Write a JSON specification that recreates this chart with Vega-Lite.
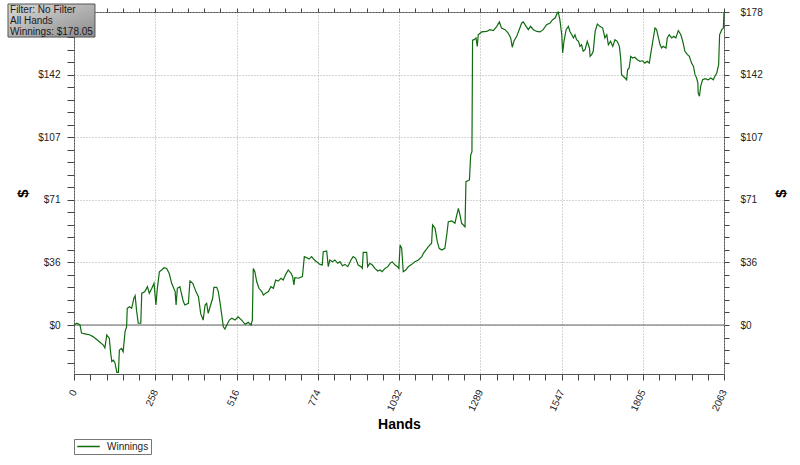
{
"$schema": "https://vega.github.io/schema/vega-lite/v6.json",
"width": 650, "height": 362,
"autosize": {"type": "none"},
"padding": {"left": 74, "top": 12, "right": 76, "bottom": 91},
"background": "white",
"config": {"view": {"stroke": "#555", "strokeWidth": 1}, "font": "Liberation Sans"},
"datasets": {"winnings": [
{"h":0,"v":0},{"h":9,"v":1},{"h":19,"v":0},{"h":24,"v":-4.6},{"h":35,"v":-5},{"h":51,"v":-5.7},{"h":60,"v":-6.6},{"h":77,"v":-9},{"h":93,"v":-11.4},{"h":98,"v":-13},{"h":104,"v":-5.7},{"h":112,"v":-7.5},{"h":116,"v":-15.2},{"h":120,"v":-20.8},{"h":125,"v":-20},{"h":130,"v":-21.6},{"h":136,"v":-27},{"h":141,"v":-27},{"h":144,"v":-14.2},{"h":151,"v":-13.3},{"h":156,"v":-15.2},{"h":162,"v":-3.8},{"h":167,"v":-1},{"h":169,"v":9.5},{"h":176,"v":10.4},{"h":183,"v":9.5},{"h":190,"v":15.2},{"h":194,"v":16.7},{"h":199,"v":7.6},{"h":204,"v":1},{"h":212,"v":1},{"h":215,"v":18},{"h":225,"v":19},{"h":233,"v":21.8},{"h":239,"v":18},{"h":247,"v":20.9},{"h":254,"v":23.7},{"h":260,"v":11.4},{"h":264,"v":20},{"h":271,"v":30.3},{"h":278,"v":31.3},{"h":286,"v":32.6},{"h":294,"v":32.2},{"h":302,"v":29.4},{"h":310,"v":23.7},{"h":321,"v":19},{"h":324,"v":11.4},{"h":328,"v":20.9},{"h":336,"v":21.8},{"h":347,"v":13.3},{"h":352,"v":11.4},{"h":363,"v":12.3},{"h":368,"v":25},{"h":377,"v":23.7},{"h":387,"v":19},{"h":395,"v":16.1},{"h":402,"v":6.6},{"h":410,"v":2.8},{"h":416,"v":11.4},{"h":421,"v":12.3},{"h":426,"v":6.6},{"h":432,"v":10.4},{"h":440,"v":15.2},{"h":444,"v":21.4},{"h":453,"v":21.4},{"h":458,"v":19},{"h":463,"v":13.3},{"h":469,"v":5.7},{"h":474,"v":-1},{"h":479,"v":-2.3},{"h":485,"v":0},{"h":493,"v":2.8},{"h":501,"v":3.8},{"h":511,"v":2.8},{"h":521,"v":4.7},{"h":532,"v":2.8},{"h":543,"v":0.4},{"h":553,"v":1.5},{"h":562,"v":0},{"h":566,"v":2.8},{"h":569,"v":32.2},{"h":574,"v":30.3},{"h":580,"v":24.6},{"h":587,"v":20.9},{"h":596,"v":19},{"h":601,"v":17},{"h":608,"v":18},{"h":617,"v":19},{"h":625,"v":21.8},{"h":633,"v":20.9},{"h":640,"v":25.6},{"h":648,"v":25},{"h":657,"v":26.6},{"h":664,"v":25.6},{"h":672,"v":28.8},{"h":680,"v":31.3},{"h":689,"v":29.4},{"h":694,"v":27.5},{"h":698,"v":22.8},{"h":701,"v":26.9},{"h":712,"v":26.6},{"h":725,"v":27.5},{"h":731,"v":38.9},{"h":739,"v":38.3},{"h":746,"v":37.5},{"h":754,"v":38.9},{"h":763,"v":37},{"h":770,"v":36},{"h":781,"v":34.5},{"h":788,"v":34.1},{"h":791,"v":41.7},{"h":802,"v":42.1},{"h":807,"v":33.2},{"h":812,"v":37},{"h":820,"v":36},{"h":828,"v":37},{"h":837,"v":35.1},{"h":844,"v":36},{"h":852,"v":33.7},{"h":860,"v":34.5},{"h":869,"v":33.2},{"h":879,"v":37},{"h":886,"v":38.9},{"h":894,"v":37.9},{"h":902,"v":34.1},{"h":911,"v":33.2},{"h":915,"v":32.2},{"h":918,"v":41.3},{"h":929,"v":41.3},{"h":932,"v":33.2},{"h":939,"v":35.1},{"h":947,"v":34.1},{"h":955,"v":32.2},{"h":964,"v":30.7},{"h":971,"v":31.3},{"h":978,"v":30.3},{"h":987,"v":32.2},{"h":996,"v":33.2},{"h":1003,"v":35.1},{"h":1010,"v":36},{"h":1019,"v":34.1},{"h":1027,"v":33.2},{"h":1031,"v":32.2},{"h":1035,"v":45.5},{"h":1040,"v":43.6},{"h":1045,"v":30.3},{"h":1053,"v":31.3},{"h":1061,"v":33.2},{"h":1072,"v":34.5},{"h":1082,"v":36},{"h":1093,"v":37},{"h":1104,"v":38.9},{"h":1109,"v":40.8},{"h":1124,"v":44.5},{"h":1135,"v":46.5},{"h":1138,"v":56.9},{"h":1146,"v":55},{"h":1153,"v":47.4},{"h":1159,"v":43.6},{"h":1167,"v":42.7},{"h":1177,"v":43.6},{"h":1183,"v":51.2},{"h":1188,"v":58.8},{"h":1199,"v":59.2},{"h":1209,"v":57.9},{"h":1215,"v":62.6},{"h":1220,"v":66.4},{"h":1225,"v":62.6},{"h":1230,"v":57.9},{"h":1241,"v":55.9},{"h":1244,"v":81.5},{"h":1255,"v":82.5},{"h":1259,"v":96.7},{"h":1263,"v":98.6},{"h":1265,"v":162},{"h":1270,"v":162.3},{"h":1276,"v":163.3},{"h":1280,"v":158.5},{"h":1283,"v":165.1},{"h":1294,"v":166.7},{"h":1310,"v":167},{"h":1320,"v":168},{"h":1331,"v":167.5},{"h":1342,"v":169.9},{"h":1350,"v":172.4},{"h":1357,"v":168.9},{"h":1368,"v":168},{"h":1378,"v":166.1},{"h":1386,"v":163.3},{"h":1391,"v":158},{"h":1396,"v":161.4},{"h":1405,"v":164.2},{"h":1413,"v":168},{"h":1421,"v":171.8},{"h":1426,"v":172.4},{"h":1435,"v":169.9},{"h":1442,"v":168},{"h":1449,"v":169.9},{"h":1458,"v":168},{"h":1469,"v":167},{"h":1479,"v":166.7},{"h":1489,"v":168},{"h":1500,"v":170.8},{"h":1511,"v":171.8},{"h":1519,"v":173.7},{"h":1527,"v":174.6},{"h":1534,"v":177.5},{"h":1537,"v":178},{"h":1542,"v":173.7},{"h":1548,"v":165.1},{"h":1551,"v":154.7},{"h":1555,"v":161.4},{"h":1562,"v":168},{"h":1569,"v":169.9},{"h":1574,"v":167},{"h":1580,"v":165.1},{"h":1585,"v":163.3},{"h":1590,"v":165.1},{"h":1595,"v":162.3},{"h":1601,"v":161.4},{"h":1606,"v":158.5},{"h":1611,"v":159.4},{"h":1616,"v":155.7},{"h":1622,"v":156.6},{"h":1629,"v":161.4},{"h":1636,"v":157.6},{"h":1638,"v":152.8},{"h":1643,"v":153.8},{"h":1648,"v":155.7},{"h":1654,"v":167},{"h":1661,"v":171.2},{"h":1669,"v":169.9},{"h":1678,"v":168.9},{"h":1685,"v":163.3},{"h":1691,"v":165.1},{"h":1696,"v":159.4},{"h":1703,"v":161.4},{"h":1710,"v":158.5},{"h":1717,"v":162.3},{"h":1724,"v":161.4},{"h":1731,"v":158.5},{"h":1735,"v":151.9},{"h":1738,"v":142.4},{"h":1743,"v":141.5},{"h":1749,"v":140.5},{"h":1754,"v":139.5},{"h":1757,"v":145.2},{"h":1762,"v":146.2},{"h":1767,"v":152.8},{"h":1773,"v":151.9},{"h":1780,"v":152.3},{"h":1788,"v":150.9},{"h":1796,"v":150},{"h":1805,"v":150.3},{"h":1812,"v":149},{"h":1819,"v":150},{"h":1826,"v":149},{"h":1830,"v":153.8},{"h":1837,"v":161.4},{"h":1844,"v":168.9},{"h":1849,"v":168},{"h":1854,"v":164.2},{"h":1860,"v":159.4},{"h":1865,"v":157.6},{"h":1870,"v":158.5},{"h":1879,"v":157.6},{"h":1883,"v":163.3},{"h":1889,"v":165.1},{"h":1897,"v":163.3},{"h":1904,"v":164.2},{"h":1910,"v":163.3},{"h":1918,"v":167.5},{"h":1926,"v":165.1},{"h":1932,"v":161.4},{"h":1939,"v":155.7},{"h":1947,"v":153.8},{"h":1953,"v":152.8},{"h":1960,"v":149},{"h":1966,"v":147.2},{"h":1971,"v":142.4},{"h":1976,"v":140.5},{"h":1980,"v":137.7},{"h":1981,"v":132},{"h":1985,"v":130.1},{"h":1989,"v":135.8},{"h":1995,"v":139.5},{"h":2003,"v":140.1},{"h":2013,"v":139.5},{"h":2021,"v":140.5},{"h":2029,"v":139.5},{"h":2034,"v":141.5},{"h":2040,"v":143.3},{"h":2046,"v":148.1},{"h":2049,"v":165.1},{"h":2056,"v":168},{"h":2061,"v":168.9},{"h":2063,"v":178.05}
]},
"resolve": {"axis": {"x": "independent", "y": "independent"}},
"layer": [
{
 "data": {"values": [{}]},
 "mark": {"type": "rule", "color": "#666", "strokeWidth": 1},
 "encoding": {
  "x": {"datum": 0, "type": "quantitative", "scale": {"domain": [0, 2063], "nice": false, "zero": false},
   "axis": {"orient": "top", "values": [0,51.575,103.15,154.725,206.3,257.875,309.45,361.025,412.6,464.175,515.75,567.325,618.9,670.475,722.05,773.625,825.2,876.775,928.35,979.925,1031.5,1083.075,1134.65,1186.225,1237.8,1289.375,1340.95,1392.525,1444.1,1495.675,1547.25,1598.825,1650.4,1701.975,1753.55,1805.125,1856.7,1908.275,1959.85,2011.425,2063],
    "labels": false, "title": null, "grid": false, "domain": false, "tickSize": 4, "tickColor": "#444",
    "encode": {"ticks": {"update": {"y": {"value": 0}, "y2": [{"test": "abs(datum.value/257.875 - round(datum.value/257.875)) < 0.001", "value": 6}, {"value": 4}]}}}}},
  "x2": {"datum": 2063},
  "y": {"datum": 0, "type": "quantitative", "scale": {"domain": [-27.87, 178.05], "nice": false, "zero": false},
   "axis": {"orient": "right", "values": [-21.366,-14.244,-7.122,0,7.122,14.244,21.366,28.488,35.61,42.732,49.854,56.976,64.098,71.22,78.342,85.464,92.586,99.708,106.83,113.952,121.074,128.196,135.318,142.44,149.562,156.684,163.806,170.928,178.05],
    "labelExpr": "(datum.value >= 0 && abs(datum.value/35.61 - round(datum.value/35.61)) < 0.001) ? '$' + format(datum.value, '.0f') : ''",
    "labelOverlap": false, "labelFlush": false, "labelPadding": 11, "labelFontSize": 10, "labelColor": "#222", "labelFont": "Liberation Sans",
    "tickSize": 5, "tickColor": "#444", "grid": false, "domain": false,
    "title": "$", "titleFontSize": 15, "titleFontWeight": "bold", "titleColor": "#000", "titleFont": "Liberation Sans", "titleAngle": -90, "titleX": 56, "titleY": 181, "titleAlign": "center", "titleBaseline": "middle",
    "encode": {"ticks": {"update": {"x": [{"test": "datum.value >= 0 && abs(datum.value/35.61 - round(datum.value/35.61)) < 0.001", "value": -4}, {"value": -3}], "x2": [{"test": "datum.value >= 0 && abs(datum.value/35.61 - round(datum.value/35.61)) < 0.001", "value": 5}, {"value": 3}]}}}}}
 }
},
{
 "data": {"name": "winnings"},
 "mark": {"type": "line", "strokeWidth": 1.2, "interpolate": "linear"},
 "encoding": {
  "x": {"field": "h", "type": "quantitative", "scale": {"domain": [0, 2063], "nice": false, "zero": false},
   "axis": {"orient": "bottom", "values": [0,51.575,103.15,154.725,206.3,257.875,309.45,361.025,412.6,464.175,515.75,567.325,618.9,670.475,722.05,773.625,825.2,876.775,928.35,979.925,1031.5,1083.075,1134.65,1186.225,1237.8,1289.375,1340.95,1392.525,1444.1,1495.675,1547.25,1598.825,1650.4,1701.975,1753.55,1805.125,1856.7,1908.275,1959.85,2011.425,2063],
    "labelExpr": "abs(datum.value/257.875 - round(datum.value/257.875)) < 0.001 ? format(round(datum.value), 'd') : ''",
    "labelAngle": -65, "labelOverlap": false, "labelFlush": false, "labelPadding": 10, "labelFontSize": 10, "labelColor": "#222", "labelFont": "Liberation Sans",
    "tickSize": 6, "tickColor": "#444", "domain": false,
    "grid": true, "gridColor": "#aaa", "gridDash": [1, 2],
    "gridOpacity": {"condition": {"test": "abs(datum.value/257.875 - round(datum.value/257.875)) < 0.001", "value": 1}, "value": 0},
    "title": "Hands", "titleFontSize": 14, "titleFontWeight": "bold", "titleColor": "#000", "titleFont": "Liberation Sans", "titleX": 325, "titleY": 50, "titleAlign": "center", "titleBaseline": "middle",
    "encode": {"ticks": {"update": {"y": [{"test": "abs(datum.value/257.875 - round(datum.value/257.875)) < 0.001", "value": -5}, {"value": -4}], "y2": [{"test": "abs(datum.value/257.875 - round(datum.value/257.875)) < 0.001", "value": 6}, {"value": 3}]}}}}},
  "y": {"field": "v", "type": "quantitative", "scale": {"domain": [-27.87, 178.05], "nice": false, "zero": false},
   "axis": {"orient": "left", "values": [-21.366,-14.244,-7.122,0,7.122,14.244,21.366,28.488,35.61,42.732,49.854,56.976,64.098,71.22,78.342,85.464,92.586,99.708,106.83,113.952,121.074,128.196,135.318,142.44,149.562,156.684,163.806,170.928,178.05],
    "labelExpr": "(datum.value >= 0 && datum.value < 170 && abs(datum.value/35.61 - round(datum.value/35.61)) < 0.001) ? '$' + format(datum.value, '.0f') : ''",
    "labelOverlap": false, "labelFlush": false, "labelPadding": 7, "labelFontSize": 10, "labelColor": "#222", "labelFont": "Liberation Sans",
    "tickSize": 7, "tickColor": "#444", "domain": false,
    "grid": true, "gridColor": "#aaa", "gridDash": [1, 2],
    "gridOpacity": {"condition": {"test": "datum.value >= 0 && abs(datum.value/35.61 - round(datum.value/35.61)) < 0.001", "value": 1}, "value": 0},
    "title": "$", "titleFontSize": 15, "titleFontWeight": "bold", "titleColor": "#000", "titleFont": "Liberation Sans", "titleAngle": -90, "titleX": -52, "titleY": 181, "titleAlign": "center", "titleBaseline": "middle",
    "encode": {"ticks": {"update": {"x": [{"test": "datum.value >= 0 && abs(datum.value/35.61 - round(datum.value/35.61)) < 0.001", "value": 4}, {"value": 3}], "x2": [{"test": "datum.value >= 0 && abs(datum.value/35.61 - round(datum.value/35.61)) < 0.001", "value": -7}, {"value": -3}]}}}}},
  "color": {"datum": "Winnings", "type": "nominal", "scale": {"range": ["#106b10"]},
   "legend": {"orient": "none", "legendX": 0, "legendY": 427, "title": null, "padding": 2, "strokeColor": "#777", "fillColor": "#fff",
    "symbolType": "M-2.5,0H2.5", "symbolSize": 81, "symbolStrokeWidth": 1.5, "symbolOffset": 7,
    "labelFontSize": 10, "labelColor": "#222", "labelOffset": 13, "labelFont": "Liberation Sans"}}
 }
},
{
 "data": {"values": [{}]},
 "mark": {"type": "rect", "stroke": "#555", "strokeWidth": 1,
  "fill": {"gradient": "linear", "x1": 0, "y1": 0, "x2": 1, "y2": 1, "stops": [{"offset": 0, "color": "#dadada"}, {"offset": 1, "color": "#8c8c8c"}]}},
 "encoding": {
  "x": {"datum": -209.5, "type": "quantitative", "scale": {"domain": [0, 2063], "nice": false, "zero": false}, "axis": null},
  "x2": {"datum": 66.6},
  "y": {"datum": 182.6, "type": "quantitative", "scale": {"domain": [-27.87, 178.05], "nice": false, "zero": false}, "axis": null},
  "y2": {"datum": 163.8}
 }
},
{
 "data": {"values": [{}]},
 "mark": {"type": "text", "text": "Filter: No Filter", "align": "left", "baseline": "middle", "fontSize": 10, "font": "Liberation Sans", "color": "#1a1a1a"},
 "encoding": {
  "x": {"datum": -203, "type": "quantitative", "scale": {"domain": [0, 2063], "nice": false, "zero": false}, "axis": null},
  "y": {"datum": 179.2, "type": "quantitative", "scale": {"domain": [-27.87, 178.05], "nice": false, "zero": false}, "axis": null}
 }
},
{
 "data": {"values": [{}]},
 "mark": {"type": "text", "text": "All Hands", "align": "left", "baseline": "middle", "fontSize": 10, "font": "Liberation Sans", "color": "#1a1a1a"},
 "encoding": {
  "x": {"datum": -203, "type": "quantitative", "scale": {"domain": [0, 2063], "nice": false, "zero": false}, "axis": null},
  "y": {"datum": 172.9, "type": "quantitative", "scale": {"domain": [-27.87, 178.05], "nice": false, "zero": false}, "axis": null}
 }
},
{
 "data": {"values": [{}]},
 "mark": {"type": "text", "text": "Winnings: $178.05", "align": "left", "baseline": "middle", "fontSize": 10, "font": "Liberation Sans", "color": "#1a1a1a"},
 "encoding": {
  "x": {"datum": -203, "type": "quantitative", "scale": {"domain": [0, 2063], "nice": false, "zero": false}, "axis": null},
  "y": {"datum": 166.7, "type": "quantitative", "scale": {"domain": [-27.87, 178.05], "nice": false, "zero": false}, "axis": null}
 }
}
]
}
